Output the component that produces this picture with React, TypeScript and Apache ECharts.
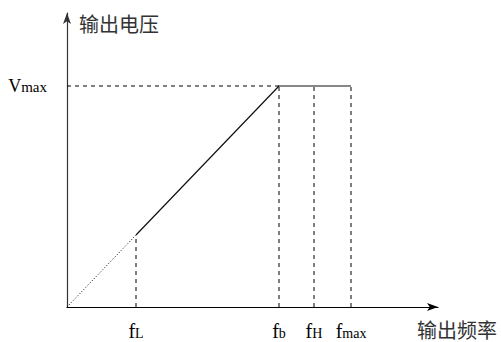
import React, { useEffect, useRef } from "react";
import * as echarts from "echarts";

// values in arbitrary axis units
const xMax = 371;
const yMax = 294;
const freqNames = ["L", "b", "H", "max"]; // subscripts of f
const freqValues = [69, 212, 247, 284];
const vmax = 221;
const vfL = 72; // output voltage at fL
const dottedX = [0, 69];
const dottedY = [0, 72];
const curveX = [69, 212, 284];
const curveY = [72, 221, 221];
const yAxisTitle = "输出电压";
const xAxisTitle = "输出频率";

export default function App() {
  const ref = useRef<HTMLDivElement>(null);
  useEffect(() => {
    if (!ref.current) return;
    const chart = echarts.init(ref.current, null, { renderer: "svg" });
    const dashStyle = { color: "#000", width: 1, type: [4, 4] as any };
    const guideTops = [vfL, vmax, vmax, vmax];
    const guides: any[] = freqValues.map((v, i) => ({
      type: "line",
      data: [
        [v, 0],
        [v, guideTops[i]],
      ],
      symbol: "none",
      silent: true,
      lineStyle: dashStyle,
      z: 1,
    }));
    guides.push({
      type: "line",
      data: [
        [0, vmax],
        [freqValues[1], vmax],
      ],
      symbol: "none",
      silent: true,
      lineStyle: dashStyle,
      z: 1,
    });
    chart.setOption({
      animation: false,
      grid: { left: 67, top: 13, width: 371, height: 294 },
      xAxis: {
        type: "value",
        min: 0,
        max: xMax,
        splitLine: { show: false },
        axisLine: {
          show: true,
          symbol: ["none", "arrow"],
          symbolSize: [6, 11],
          lineStyle: { color: "#000", width: 1.2 },
        },
        axisTick: { show: false },
        axisLabel: {
          customValues: freqValues,
          margin: 14,
          formatter: (val: number) => {
            const i = freqValues.indexOf(val);
            return i < 0 ? "" : `{f|f}{s|${freqNames[i]}}`;
          },
          rich: {
            f: { fontFamily: "Liberation Serif", fontSize: 20, color: "#000", verticalAlign: "bottom" },
            s: { fontFamily: "Liberation Serif", fontSize: 14, color: "#000", verticalAlign: "bottom", padding: [0, 0, 1, 0] },
          },
        },
      },
      yAxis: {
        type: "value",
        min: 0,
        max: yMax,
        splitLine: { show: false },
        axisLine: {
          show: true,
          symbol: ["none", "arrow"],
          symbolSize: [6, 11],
          lineStyle: { color: "#333", width: 1.2 },
        },
        axisTick: { show: false },
        axisLabel: {
          customValues: [vmax],
          margin: 20,
          formatter: () => "{v|V}{s|max}",
          rich: {
            v: { fontFamily: "Liberation Serif", fontSize: 18, color: "#000", verticalAlign: "bottom" },
            s: { fontFamily: "Liberation Serif", fontSize: 15, color: "#000", verticalAlign: "bottom", padding: [0, 0, 1, 0] },
          },
        },
      },
      graphic: [
        {
          type: "text",
          left: 79,
          top: 13,
          style: { text: yAxisTitle, font: '20px "Noto Sans CJK SC"', fill: "#333" },
        },
        {
          type: "text",
          left: 417,
          top: 319,
          style: { text: xAxisTitle, font: '20px "Noto Sans CJK SC"', fill: "#333" },
        },
      ],
      series: [
        ...guides,
        {
          type: "line",
          data: dottedX.map((x, i) => [x, dottedY[i]]),
          symbol: "none",
          silent: true,
          lineStyle: { color: "#000", width: 1, type: [1, 2] as any },
          z: 2,
        },
        {
          type: "line",
          data: curveX.map((x, i) => [x, curveY[i]]),
          symbol: "none",
          silent: true,
          lineStyle: { color: "#111", width: 1.2 },
          z: 3,
        },
      ],
    });
    return () => chart.dispose();
  }, []);
  return (
    <div
      ref={ref}
      style={{ position: "fixed", left: 0, top: 0, width: 501, height: 342, background: "#fff" }}
    />
  );
}
